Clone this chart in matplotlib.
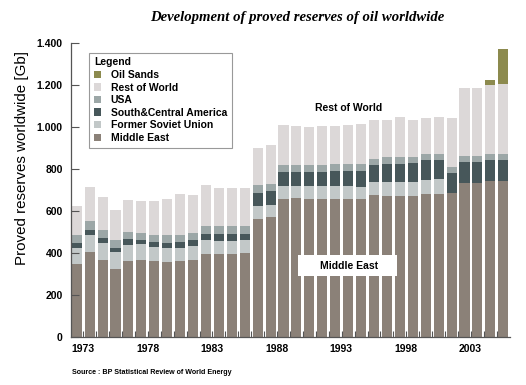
import numpy as np
import matplotlib
matplotlib.use("Agg")
import matplotlib.pyplot as plt
from matplotlib.patches import Rectangle
from matplotlib.ticker import FuncFormatter, FixedLocator

plt.rcParams["font.family"] = ["Liberation Sans", "DejaVu Sans"]

years = list(range(1973, 2007))

# reserves in Gb
middle_east = [347, 406, 366, 323, 361, 366, 360, 358, 361, 366,
               395, 395, 395, 401, 562, 571, 657, 660, 659, 659,
               659, 659, 659, 675, 673, 671, 673, 681, 682, 686,
               735, 735, 745, 745]
former_soviet_union = [76, 82, 81, 81, 78, 75, 68, 65, 62, 65,
                       66, 63, 63, 60, 62, 59, 61, 58, 59, 59,
                       59, 59, 57, 65, 64, 66, 64, 65, 69, 0,
                       0, 0, 0, 0]
south_central_america = [26, 21, 24, 19, 26, 22, 25, 27, 29, 29,
                         31, 32, 32, 31, 62, 65, 66, 68, 68, 68,
                         73, 73, 75, 78, 89, 89, 90, 96, 92, 95,
                         97, 97, 98, 98]
usa = [38, 43, 38, 38, 35, 33, 32, 35, 35, 35,
       36, 38, 38, 36, 38, 34, 35, 33, 33, 33,
       31, 31, 31, 30, 30, 30, 29, 28, 30, 30,
       29, 29, 29, 29]
rest_of_world = [137, 161, 156, 144, 152, 150, 162, 172, 192, 181,
                 194, 180, 180, 180, 175, 187, 190, 188, 180, 186,
                 185, 187, 191, 186, 178, 194, 178, 174, 174, 234,
                 326, 326, 328, 334]
oil_sands = [0] * 32 + [25, 165]

series = [
    ("Middle East", middle_east, "#8b8178"),
    ("Former Soviet Union", former_soviet_union, "#c2c8c8"),
    ("South&Central America", south_central_america, "#47575a"),
    ("USA", usa, "#9ca7a7"),
    ("Rest of World", rest_of_world, "#dcd8d8"),
    ("Oil Sands", oil_sands, "#8c8a4e"),
]

label_years = [1973, 1978, 1983, 1988, 1993, 1998, 2003]

fig = plt.figure(figsize=(5.26, 3.85), dpi=100)
ax = fig.add_axes([0.135, 0.1247, 0.8346, 0.7635])

bottom = np.zeros(len(years))
handles = {}
for name, values, color in series:
    vals = np.array(values, dtype=float)
    bars = ax.bar(years, vals, bottom=bottom, width=0.78, color=color,
                  linewidth=0, label=name)
    handles[name] = bars
    bottom += vals

ax.set_xlim(years[0] - 0.44, years[-1] + 0.52)
ax.set_ylim(0, 1400)

for side in ("top", "right"):
    ax.spines[side].set_visible(False)
for side in ("left", "bottom"):
    ax.spines[side].set_color("#555555")
    ax.spines[side].set_linewidth(0.9)

ax.set_yticks(range(0, 1401, 200))
ax.yaxis.set_major_formatter(FuncFormatter(lambda v, p: f"{int(v):,}".replace(",", ".")))
ax.tick_params(axis="y", direction="in", length=6, color="#555555",
               labelsize=7.5, pad=6)
for t in ax.get_yticklabels():
    t.set_fontweight("bold")

ax.set_xticks([y - 0.42 for y in label_years])
ax.set_xticklabels([str(y) for y in label_years], ha="left",
                   fontsize=7.5, fontweight="bold")
ax.tick_params(axis="x", which="major", length=0, pad=5)
ax.xaxis.set_minor_locator(FixedLocator([y + 0.5 for y in years[:-1]]))
ax.tick_params(axis="x", which="minor", direction="in", length=4,
               color="#555555", width=0.8)

fig.text(0.565, 0.955, "Development of proved reserves of oil worldwide",
         ha="center", va="center", fontsize=10.6, fontstyle="italic",
         fontweight="bold", family=["Liberation Serif", "DejaVu Serif"])

fig.text(0.041, 1 - 158 / 385, "Proved reserves worldwide [Gb]",
         rotation=90, ha="center", va="center", fontsize=10.9)

fig.text(0.137, 1 - 373 / 385, "Source : BP Statistical Review of World Energy",
         ha="left", va="center", fontsize=5.1, fontweight="bold")

ax.text(0.633, 0.779, "Rest of World", transform=ax.transAxes,
        ha="center", va="center", fontsize=7.5, fontweight="bold")

ax.add_patch(Rectangle((0.517, 0.2075), 0.2255, 0.0714, transform=ax.transAxes,
                       facecolor="white", edgecolor="none", zorder=3))
ax.text(0.633, 0.243, "Middle East", transform=ax.transAxes, ha="center",
        va="center", fontsize=7.5, fontweight="bold", zorder=4)

order = ["Oil Sands", "Rest of World", "USA", "South&Central America",
         "Former Soviet Union", "Middle East"]
leg = ax.legend([handles[n] for n in order], order, loc="upper left",
                bbox_to_anchor=(0.03, 0.985), title="Legend",
                fancybox=False, framealpha=1.0, edgecolor="#999999",
                prop=dict(size=7.5, weight="bold"),
                handlelength=0.7, handleheight=0.7, handletextpad=0.9,
                labelspacing=0.25, borderpad=0.45, alignment="left")
leg.get_title().set_fontweight("bold")
leg.get_title().set_fontsize(7.5)
leg.get_frame().set_linewidth(0.8)

fig.savefig("out.png", dpi=100)
